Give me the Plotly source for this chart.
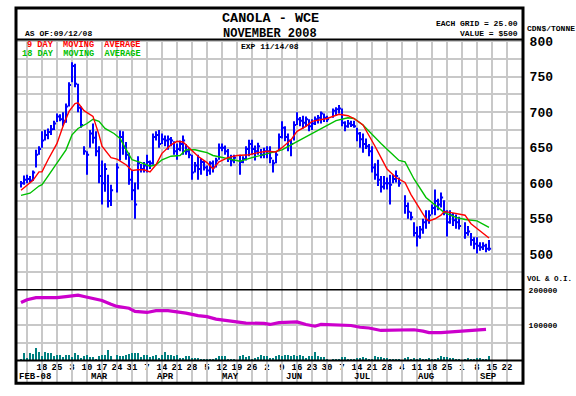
import numpy as np
import pandas as pd
import plotly.graph_objects as go

# ---------------- data ----------------
holidays = ["2008-03-21", "2008-05-19", "2008-07-01", "2008-08-04", "2008-09-01"]
trade_dates = [d for d in pd.bdate_range("2008-02-07", "2008-09-12").strftime("%Y-%m-%d")
               if d not in holidays]

high = [603, 611,
        612, 610, 618, 647, 652,
        673, 675, 677, 682, 688,
        698, 697, 700, 712, 742,
        770, 768, 740, 708, 652,
        645, 675, 684, 673, 652,
        632, 628, 612, 598,
        628, 674, 673, 658, 643,
        619, 601, 638, 627, 630,
        640, 632, 670, 673, 675,
        670, 667, 667, 665, 659,
        656, 660, 667, 655, 650,
        640, 630, 640, 635, 632,
        625, 631, 632, 636, 656,
        656, 653, 648, 640, 640,
        640, 638, 652, 661,
        661, 653, 657, 648, 650,
        652, 652, 633, 645, 670,
        687, 680, 670, 661, 687,
        700, 693, 695, 694, 690,
        690, 694, 696, 701, 698,
        695, 705, 707, 710,
        705, 687, 689, 688, 688,
        678, 672, 670, 663, 655,
        652, 628, 633, 610, 610,
        608, 612, 612, 618, 608,
        583, 573, 560, 545,
        539, 540, 550, 562, 562,
        570, 591, 578, 587, 576,
        562, 562, 558, 556, 553,
        545, 540, 530, 524,
        524, 517, 517, 515, 520]
low = [594, 598,
       600, 601, 603, 622, 640,
       650, 660, 662, 668, 675,
       686, 687, 680, 685, 708,
       742, 735, 700, 678, 640,
       612, 650, 656, 638, 600,
       570, 588, 566, 568,
       587, 632, 640, 633, 598,
       576, 550, 591, 615, 615,
       615, 620, 626, 660, 650,
       655, 652, 647, 652, 640,
       633, 645, 640, 640, 635,
       605, 615, 605, 612, 618,
       610, 612, 615, 622, 633,
       645, 640, 630, 624, 628,
       612, 628, 632, 638,
       640, 632, 640, 635, 635,
       635, 628, 615, 628, 645,
       663, 659, 645, 638, 660,
       682, 680, 677, 680, 673,
       675, 682, 684, 684, 686,
       686, 692, 695, 698,
       680, 673, 678, 679, 678,
       659, 650, 643, 648, 638,
       615, 605, 596, 587, 591,
       591, 570, 600, 601, 595,
       557, 550, 548, 525,
       511, 522, 529, 536, 543,
       556, 555, 562, 566, 555,
       525, 543, 540, 536, 535,
       522, 526, 512, 507,
       501, 505, 506, 503, 505]
close = [600, 605,
         606, 604, 615, 640, 648,
         660, 668, 672, 676, 684,
         694, 690, 688, 708, 738,
         765, 740, 706, 682, 645,
         640, 670, 664, 645, 610,
         600, 620, 575, 590,
         622, 665, 650, 640, 605,
         590, 570, 628, 620, 625,
         630, 628, 665, 668, 655,
         662, 660, 662, 660, 645,
         648, 655, 660, 645, 640,
         615, 625, 620, 630, 622,
         618, 628, 622, 632, 650,
         650, 645, 635, 632, 636,
         630, 634, 648, 655,
         648, 645, 652, 640, 645,
         645, 635, 628, 640, 665,
         678, 665, 660, 655, 682,
         690, 688, 685, 690, 680,
         684, 690, 692, 698, 692,
         690, 702, 704, 705,
         685, 680, 684, 682, 680,
         670, 662, 655, 652, 645,
         622, 612, 605, 595, 600,
         600, 598, 606, 610, 600,
         568, 560, 552, 530,
         525, 535, 545, 548, 555,
         565, 575, 570, 580, 560,
         545, 555, 548, 545, 540,
         530, 532, 520, 515,
         512, 510, 512, 508, 508]
volume_k = [3, 21,
            7, 21, 18, 37, 23,
            12, 23, 21, 21, 12,
            17, 17, 9, 15, 15,
            9, 21, 15, 7, 12,
            15, 9, 9, 3, 12,
            15, 15, 29, 12,
            15, 12, 12, 15, 18,
            21, 21, 21, 9, 15,
            15, 9, 12, 15, 7,
            15, 23, 15, 15, 12,
            15, 7, 7, 12, 12,
            7, 7, 7, 5, 5,
            5, 5, 5, 7, 12,
            12, 12, 3, 3, 3,
            12, 15, 9, 12,
            3, 7, 9, 17, 12,
            12, 7, 7, 12, 15,
            12, 15, 15, 12, 15,
            12, 15, 12, 7, 12,
            12, 23, 12, 9, 9,
            3, 5, 3, 3,
            9, 9, 5, 5, 5,
            7, 7, 9, 7, 5,
            5, 12, 9, 9, 7,
            7, 5, 5, 3, 3,
            7, 9, 5, 7,
            5, 7, 5, 5, 7,
            5, 5, 7, 12, 9,
            9, 7, 7, 5, 3,
            5, 7, 5, 5,
            7, 7, 5, 5, 12]

# moving averages (x = business days from 2008-02-11)
ma9_day = [-2, 2, 4, 5, 7, 8, 10, 12, 14, 16, 17, 19, 22, 24, 25, 28, 30, 33, 35, 37,
           39, 41, 43, 45, 48, 50, 52, 54, 57, 60, 62, 64, 67, 70, 74, 77, 80, 83, 85, 88,
           90, 93, 95, 100, 102, 104, 107, 109, 112, 114, 116, 118, 120, 123, 126, 128, 131, 133, 134, 136,
           138, 139, 141, 144, 146, 148, 150, 152, 154]
ma9_val = [590, 604, 616, 616, 633, 640, 656, 680, 701, 712, 713, 702, 694, 668, 652, 636, 634, 626, 618, 619,
           619, 616, 626, 642, 654, 659, 658, 650, 638, 629, 620, 630, 636, 639, 640, 643, 645, 644, 650, 661,
           673, 680, 687, 691, 694, 697, 695, 691, 682, 668, 652, 636, 620, 608, 601, 584, 564, 550, 547, 550,
           555, 560, 559, 556, 555, 543, 536, 529, 523]
ma18_day = [-2, 1, 4, 5, 7, 10, 13, 15, 17, 20, 22, 24, 26, 29, 31, 33, 35, 38, 41, 43,
            45, 48, 51, 53, 56, 58, 60, 62, 65, 68, 71, 75, 78, 81, 85, 88, 91, 94, 96, 100,
            103, 107, 109, 112, 114, 118, 121, 124, 126, 129, 133, 136, 139, 143, 146, 150, 154]
ma18_val = [583, 586, 596, 598, 610, 629, 647, 668, 677, 684, 690, 687, 677, 670, 663, 648, 633, 629, 624, 626,
            633, 638, 639, 647, 647, 645, 643, 639, 636, 633, 631, 636, 639, 643, 647, 654, 661, 667, 672, 682,
            688, 692, 691, 682, 673, 656, 644, 632, 630, 606, 580, 570, 559, 552, 549, 547, 538]
oi_day = [-2, 0, 3, 10, 13, 17, 19, 22, 25, 28, 30, 34, 36, 40, 43, 47, 49, 53, 57, 60,
          63, 69, 73, 79, 81, 84, 90, 93, 96, 98, 104, 108, 111, 114, 118, 121, 124, 129, 132, 134,
          138, 141, 147, 150, 153]
oi_k = [164, 172, 178, 178, 181, 185, 181, 175, 170, 159, 153, 148, 139, 136, 141, 141, 139, 134, 127, 124,
        117, 111, 106, 105, 102, 107, 109, 102, 97, 102, 100, 99, 94, 92, 85, 85, 87, 87, 83, 79,
        79, 81, 85, 85, 88]

week_labels = ["", "18", "25", "3", "10", "17", "24", "31", "7", "14", "21", "28",
               "5", "12", "19", "26", "2", "9", "16", "23", "30", "7", "14", "21", "28",
               "4", "11", "18", "25", "1", "8", "15", "22", ""]
month_names = ["FEB-08", "MAR", "APR", "MAY", "JUN", "JUL", "AUG", "SEP"]
month_pos = [2.7, 24, 46, 67.7, 89, 111.7, 133, 153.7]

price_ticks = list(range(450, 801, 25))
price_text = [str(v) if (v % 50 == 0 and v >= 500) else "" for v in price_ticks]

# ---------------- scales ----------------
BASE = "2008-02-11"
xd = np.busday_count(BASE, trade_dates)
mondays = pd.date_range("2008-02-11", "2008-09-29", freq="W-MON").strftime("%Y-%m-%d")
week_x = np.busday_count(BASE, list(mondays))

W, H = 576, 396
def px(x):
    return x / W
def py(y):
    return 1 - y / H

FONT = "Liberation Mono"
GRID = "#C8C8C8"

fig = go.Figure()

# HLC bars
bx, by = [], []
for x, h, l, c in zip(xd, high, low, close):
    bx += [x, x, None, x, x + 0.7, None]
    by += [h, l, None, c, c, None]
fig.add_trace(go.Scatter(x=bx, y=by, mode="lines", line=dict(color="#0000FF", width=2),
                         xaxis="x", yaxis="y", hoverinfo="skip"))
fig.add_trace(go.Scatter(x=ma18_day, y=ma18_val, mode="lines", line=dict(color="#00C000", width=1.4),
                         xaxis="x", yaxis="y"))
fig.add_trace(go.Scatter(x=ma9_day, y=ma9_val, mode="lines", line=dict(color="#FF0000", width=1.4),
                         xaxis="x", yaxis="y"))
# volume & OI
fig.add_trace(go.Bar(x=xd, y=[v * 1000 for v in volume_k], width=0.45, marker=dict(color="#008080", line_width=0),
                     xaxis="x2", yaxis="y2"))
fig.add_trace(go.Scatter(x=oi_day, y=[v * 1000 for v in oi_k], mode="lines",
                         line=dict(color="#CC00CC", width=3.2), xaxis="x2", yaxis="y2"))

xr = [-11 / 3, 165 + 1 / 3]
xdom = [px(16), px(523)]
common_x = dict(range=xr, domain=xdom, tickmode="array", tickvals=list(week_x), showgrid=True,
                gridcolor=GRID, gridwidth=1.5, zeroline=False, showline=False, ticks="")

fig.update_layout(
    width=W, height=H, autosize=False, margin=dict(l=0, r=0, t=0, b=0),
    paper_bgcolor="white", plot_bgcolor="rgba(0,0,0,0)", showlegend=False, bargap=0,
    xaxis=dict(common_x, anchor="y", showticklabels=False),
    yaxis=dict(domain=[py(288.5), py(35)], range=[450, 450 + (288.5 - 35) / 0.72], side="right",
               tickmode="array", tickvals=price_ticks, ticktext=price_text, showgrid=True,
               gridcolor=GRID, gridwidth=1.5, zeroline=False, ticks="outside", ticklen=3,
               tickcolor="rgba(0,0,0,0)",
               tickfont=dict(family=FONT, size=13, color="black", weight="bold")),
    xaxis2=dict(common_x, anchor="y2", showticklabels=True, ticktext=week_labels,
                tickfont=dict(family=FONT, size=9, color="black", weight="bold")),
    yaxis2=dict(domain=[py(360), py(288.5)], range=[0, 200000], side="right", tickmode="array",
                tickvals=[0, 50000, 100000, 150000, 200000], ticktext=["", "", "100000", "", "200000"],
                showgrid=True, gridcolor=GRID, gridwidth=1.5, zeroline=False, ticks="outside",
                ticklen=3, tickcolor="rgba(0,0,0,0)",
                tickfont=dict(family=FONT, size=8, color="black", weight="bold")),
    xaxis3=dict(common_x, anchor="y3", showticklabels=False),
    yaxis3=dict(domain=[py(383), py(360)], range=[0, 1], showgrid=False, showticklabels=False,
                zeroline=False),
)

# frame lines
shapes = [
    dict(type="rect", xref="paper", yref="paper", x0=px(16), x1=px(523), y0=py(383), y1=py(3),
         line=dict(color="black", width=3)),
    dict(type="line", xref="paper", yref="paper", x0=px(16), x1=px(523), y0=py(35), y1=py(35),
         line=dict(color="black", width=2)),
    dict(type="line", xref="paper", yref="paper", x0=px(16), x1=px(523), y0=py(288.5), y1=py(288.5),
         line=dict(color="black", width=1.5)),
    dict(type="line", xref="paper", yref="paper", x0=px(16), x1=px(523), y0=py(360), y1=py(360),
         line=dict(color="black", width=2)),
]
fig.update_layout(shapes=shapes)

def note(text, x, y, size, anchor="left", color="black"):
    fig.add_annotation(text=text, x=px(x), y=py(y), xref="paper", yref="paper", showarrow=False,
                       xanchor=anchor, yanchor="middle", borderpad=0,
                       font=dict(family=FONT, size=size, color=color, weight="bold"))

note("CANOLA - WCE", 270, 14, 13.5, "center")
note("NOVEMBER 2008", 270, 29, 12, "center")
note("AS OF:09/12/08", 24, 29, 8)
note("EACH GRID = 25.00", 519, 19, 8, "right")
note("VALUE = $500", 519, 29, 8, "right")
note("EXP 11/14/08", 240, 42, 8)
note("9 DAY  MOVING  AVERAGE", 25.5, 41, 8.6, color="#FF0000")
note("18 DAY  MOVING  AVERAGE", 20.5, 49.5, 8.6, color="#00C000")
note("CDN$/TONNE", 526, 24, 8)
note("VOL & O.I.", 526, 277, 7.5)

for name, pos in zip(month_names, month_pos):
    fig.add_annotation(text=name, x=pos, y=py(377), xref="x3", yref="paper", showarrow=False,
                       xanchor="center", yanchor="middle",
                       font=dict(family=FONT, size=9, color="black", weight="bold"))

fig.write_html("out.html", include_plotlyjs=True, config={"displayModeBar": False},
               post_script="document.body.style.margin='0';")
